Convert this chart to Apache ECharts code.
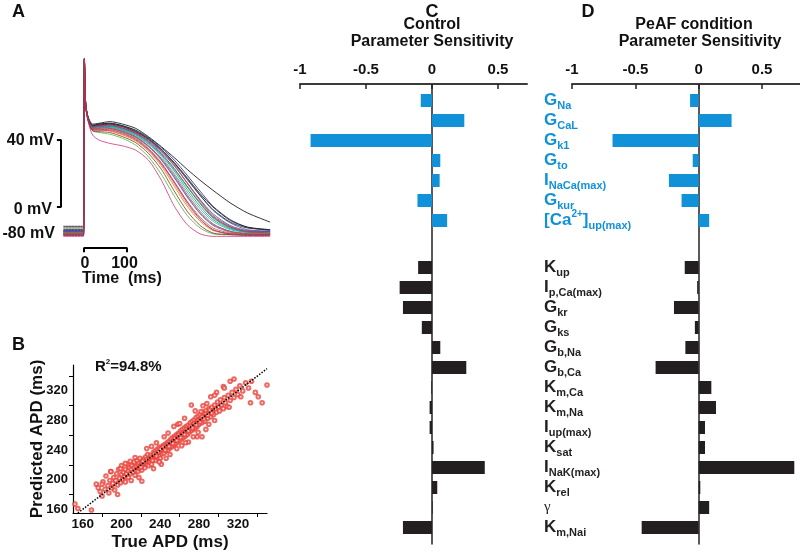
<!DOCTYPE html>
<html><head><meta charset="utf-8">
<script src="https://cdn.jsdelivr.net/npm/echarts@6/dist/echarts.min.js"></script>
<style>html,body{margin:0;padding:0;background:#fff}#c{width:800px;height:552px}</style>
</head><body><div id="c"></div>
<script>
const FONT = '"Liberation Sans", Arial, sans-serif';

// ---------- Panel C / D : parameter sensitivities ----------
const blueCats = ['G_Na','G_CaL','G_k1','G_to','I_NaCa(max)','G_kur','[Ca^2+]_up(max)'];
const blackCats = ['K_up','I_p,Ca(max)','G_kr','G_ks','G_b,Na','G_b,Ca','K_m,Ca','K_m,Na','I_up(max)','K_sat','I_NaK(max)','K_rel','γ','K_m,Nai'];
const controlBlue  = [-0.085, 0.245, -0.92, 0.063, 0.058, -0.11, 0.115];
const controlBlack = [-0.105, -0.245, -0.22, -0.077, 0.063, 0.26, -0.005, -0.018, -0.018, 0.012, 0.40, 0.04, 0.005, -0.22];
const peafBlue  = [-0.068, 0.26, -0.68, -0.047, -0.235, -0.135, 0.083];
const peafBlack = [-0.11, -0.012, -0.195, -0.03, -0.105, -0.34, 0.10, 0.137, 0.05, 0.05, 0.755, 0.013, 0.083, -0.45];
const sensTicks = [-1, -0.5, 0, 0.5];

// ---------- Panel A : action potentials (time ms, voltage mV) ----------
const apTime = [-48, -3, -1, 1, 4, 10, 20, 35, 60, 90, 120, 150, 180, 210, 240, 270, 300, 340, 380, 433];
const apTraces = [
  [-81,-81,-81, 23, -4.5, -13, -19, -20, -21, -23.5, -27.5, -34.5, -45, -58, -69.5, -77, -80.5, -81, -81, -81],
  [-76,-76,-76, 24, -3, -11, -15, -14.5, -13.5, -15, -17.5, -22.5, -28.5, -35, -42, -48.5, -54.5, -62, -68, -73.5],
  [-82,-82,-82, 22, -5, -14, -21.5, -24.5, -26.5, -28, -30.5, -36.5, -48.5, -64, -75, -80.5, -82, -82, -82, -82],
  [-80,-80,-80, 24, -4, -12, -17, -16.5, -16.5, -18.5, -21.5, -26.5, -33.5, -43, -54, -64, -72, -77.5, -79.5, -80],
  [-78.5,-78.5,-78.5, 24, -3, -11.5, -15.5, -15, -14.5, -16, -18.5, -23, -29, -36.5, -45.5, -55, -64, -72, -76.5, -78.5],
  [-81,-81,-81, 23, -4, -13, -18, -18, -19, -21.5, -25, -31, -40, -52, -64, -73, -78.5, -80.5, -81, -81],
  [-79,-79,-79, 24, -3, -12, -16.5, -16, -15.5, -17.5, -20.5, -25, -31.5, -40, -50, -60, -68.5, -75.5, -78.5, -79],
  [-80,-80,-80, 23.5, -4, -12.5, -18, -17.5, -17, -19, -22.5, -28, -36, -46.5, -58, -68, -75, -79, -80, -80],
  [-80.5,-80.5,-80.5, 23, -4, -12.5, -17.5, -17, -17.5, -19.5, -23, -28.5, -36.5, -47, -58.5, -68.5, -75.5, -79.5, -80.5, -80.5],
  [-78,-78,-78, 24, -3, -11.5, -16, -15, -14.5, -16, -19, -23.5, -30, -38, -47, -56.5, -64.5, -72.5, -76.5, -78],
  [-79.5,-79.5,-79.5, 24, -3.5, -12, -16.5, -16, -15.5, -17, -20, -24.5, -31, -39.5, -50.5, -61, -70, -76.5, -79, -79.5],
  [-79.5,-79.5,-79.5, 23.5, -4, -12, -17, -16.5, -16.5, -18.5, -22, -27, -34.5, -44.5, -55.5, -65.5, -73, -78, -79.5, -79.5],
  [-80,-80,-80, 23, -4.5, -13, -18.5, -18.5, -18, -20, -23.5, -29.5, -38, -49.5, -61, -70.5, -77, -80, -80.5, -80.5],
  [-80.5,-80.5,-80.5, 23, -4, -12.5, -18, -18.5, -19, -21, -24.5, -30.5, -39, -50.5, -62.5, -72, -78, -80.5, -80.5, -80.5],
  [-79,-79,-79, 23.5, -3.5, -12, -16.5, -16, -16, -17.5, -20.5, -25.5, -32.5, -41.5, -52, -62, -70.5, -76.5, -79, -79],
  [-81,-81,-81, 23, -4, -12.5, -17.5, -17.5, -17.5, -19.5, -22.5, -28, -35.5, -45.5, -57, -67, -74.5, -79, -80.5, -81],
  [-79,-79,-79, 24, -3.5, -12, -17, -16, -15, -16.5, -19.5, -24, -30, -38, -47.5, -57.5, -66.5, -74, -78, -79],
  [-80,-80,-80, 24, -3.5, -12, -17, -16.5, -16, -18, -21, -26, -33, -42, -52.5, -62.5, -71, -77, -79.5, -80],
  [-77,-77,-77, 24, -3.5, -11.5, -16, -15.5, -15, -16.5, -19.5, -24, -30.5, -38.5, -48, -57.5, -66, -73.5, -77, -78],
  [-81.5,-81.5,-81.5, 23, -4.5, -13, -19, -19.5, -20, -22.5, -26, -32.5, -42, -55, -67, -75.5, -80, -81, -81.5, -81.5],
  [-81,-81,-81, 23, -4, -13, -18.5, -18.5, -18.5, -20.5, -24, -30, -38.5, -49.5, -61.5, -71.5, -78, -80.5, -81, -81],
  [-80,-80,-80, 24.5, -3.5, -12, -16.5, -16, -15.5, -17, -20, -24.5, -31, -39.5, -50, -60.5, -69.5, -76, -79, -80]
];
const apColors = ['#4caf50','#000000','#d0307a','#2a9d3a','#1b2a6b','#e07b20','#2b4fd6','#0097a7','#b02fb0','#111111','#8bc34a',
                  '#18b7c8','#8a8a20','#ff5722','#6a2a9a','#d23a3a','#3f51b5','#1f8f8f','#222222','#7b3f00','#9c27b0','#d32f2f'];
const voltScale = [[-63, -24.5], [-53.5, -24.5], [-53.5, -64.5], [-63, -64.5]];
const timeScale = [[0, -91.5], [0, -89], [100, -89], [100, -91.5]];

// ---------- Panel B : predicted vs true APD ----------
const apdPoints = [
[152,167],[155,161],[169,159],[174,194],[176,189],[178,184],[180,178],[181,197],[183,187],[184,205],[186,192],[187,182],[188,199],[189,211],[190,189],[191,195],[192,203],[193,186],[194,199],[195,208],[196,193],[197,214],[198,202],[199,196],[200,207],[200,219],[201,200],[202,210],[203,204],[204,214],[204,197],[205,208],[206,221],[207,212],[207,203],[208,216],[209,208],[210,199],[210,214],[211,219],[212,210],[213,224],[213,216],[214,206],[215,218],[215,212],[216,226],[217,219],[217,211],[218,222],[219,215],[219,229],[220,220],[221,224],[221,213],[222,218],[223,228],[223,222],[224,216],[225,226],[225,231],[226,221],[227,225],[227,234],[228,219],[229,229],[229,224],[230,233],[231,227],[231,221],[232,231],[233,237],[233,228],[234,233],[235,226],[235,239],[236,234],[237,230],[237,241],[238,236],[239,232],[239,244],[240,238],[240,229],[241,243],[242,239],[242,235],[243,246],[244,241],[244,236],[245,248],[246,243],[246,239],[247,250],[248,245],[248,240],[249,252],[250,247],[250,243],[251,255],[252,249],[252,245],[253,257],[254,252],[254,247],[255,259],[256,254],[256,249],[257,261],[258,256],[258,251],[259,263],[260,258],[260,253],[261,266],[262,260],[262,255],[263,268],[264,262],[264,257],[265,270],[266,264],[266,259],[267,272],[268,267],[268,261],[269,274],[270,269],[270,264],[271,277],[272,271],[272,266],[273,279],[274,273],[274,268],[275,281],[276,276],[276,270],[277,284],[278,278],[278,272],[279,286],[280,281],[280,275],[281,288],[282,283],[283,277],[284,291],[285,285],[286,279],[287,293],[288,288],[289,283],[290,296],[291,290],[292,285],[293,298],[294,292],[295,288],[296,301],[297,295],[298,291],[299,305],[300,298],[301,293],[302,308],[303,301],[305,296],[306,311],[307,304],[309,299],[310,314],[312,307],[314,318],[316,311],[318,322],[320,315],[322,327],[325,320],[328,331],[331,324],[334,333],[338,318],[341,312],[333,304],[345,304],[350,328],[272,301],[282,292],[278,258],[283,258],[241,221],[221,198],[180,194],[189,211],[246,229],[258,275],[233,215],[265,283],[292,312],[298,318],[305,326],[312,333],[269,251],[287,268],[250,234],[226,242],[214,230],[204,222],[196,180],[254,272],[276,293],[296,280],[306,324],[311,298],[236,250],[244,258],[262,246],[274,258],[284,300],[290,275],[231,245],[218,203],[209,225],[199,215],[260,276],[266,250],[248,263],[239,224],[257,242],[279,264],[316,336],[323,312],[296,314],[288,303],
[243,244],[245,240],[247,247],[249,245],[251,251],[253,249],[255,256],[257,253],[259,260],[261,257],[263,263],[265,261],[267,268],[269,266],[271,272],[273,270],[275,276],[277,274],[279,280],[281,278],[230,229],[232,226],[234,235],[236,232],[238,238],[240,241],[226,227],[224,224],[222,225],[220,217],[283,285],[285,282],[287,289],[289,287],[291,294],[293,290]
];
const identityLine = [[155,155],[350,350]];
const apdLabelTicks = [160, 200, 240, 280, 320];
const apdMinorTicks = [180, 220, 260, 300, 340];

const BLUE = '#1192d8', BLACK = '#231f20';

function fmtLabel(s) {
  if (s === 'γ') return '{g|γ}';
  if (s.indexOf('^') >= 0) {
    const parts = s.split('^');
    const rest = parts[1].split('_');
    return '{m|' + parts[0] + '}{p|' + rest[0].slice(0, -1) + '}{m|]}{s|' + rest[1] + '}';
  }
  const i = s.indexOf('_');
  return '{m|' + s.slice(0, i) + '}{s|' + s.slice(i + 1) + '}';
}
function richFor(color) {
  return {
    m: {fontSize: 17, fontWeight: 'bold', lineHeight: 22, color: color, fontFamily: FONT},
    s: {fontSize: 11, fontWeight: 'bold', lineHeight: 10, verticalAlign: 'bottom', color: color, fontFamily: FONT},
    p: {fontSize: 10, fontWeight: 'bold', lineHeight: 10, verticalAlign: 'top', color: color, fontFamily: FONT},
    g: {fontSize: 15, lineHeight: 22, color: color, fontFamily: '"Liberation Serif", serif'}
  };
}

const grids = [
  {left: 53.9, right: 529, top: 48.75, bottom: 285.5},   // 0 A
  {left: 73, right: 533, top: 365, bottom: 38},          // 1 B
  {left: 300, right: 273, top: 84, bottom: 8},           // 2 C axis
  {left: 300, right: 273, top: 90.5, height: 140},       // 3 C blue
  {left: 300, right: 273, top: 257.5, height: 280},      // 4 C black
  {left: 572, right: 0, top: 84, bottom: 8},             // 5 D axis
  {left: 572, right: 0, top: 90.5, height: 140},         // 6 D blue
  {left: 572, right: 0, top: 257.5, height: 280}         // 7 D black
];

function axisX(g, max) {
  return {gridIndex: g, type: 'value', min: -1, max: max, position: 'top',
    axisLine: {onZero: false, lineStyle: {color: '#3c3c3c', width: 2}},
    axisTick: {inside: true, length: 5, customValues: sensTicks, lineStyle: {color: '#222', width: 1.5}},
    axisLabel: {customValues: sensTicks, fontWeight: 'bold', fontSize: 15, color: '#111', margin: 7, fontFamily: FONT},
    splitLine: {show: false}};
}
function axisY(g) {
  return {gridIndex: g, type: 'value', min: 0, max: 1,
    axisLine: {show: true, onZero: true, lineStyle: {color: '#222', width: 1.5}},
    axisTick: {show: false}, axisLabel: {show: false}, splitLine: {show: false}};
}
function hiddenX(g, max) {
  return {gridIndex: g, type: 'value', min: -1, max: max, show: false};
}
function catY(g, cats, showLabels, color) {
  return {gridIndex: g, type: 'category', data: cats, inverse: true, position: 'right',
    axisLine: {show: false, onZero: false}, axisTick: {show: false}, splitLine: {show: false},
    axisLabel: {show: showLabels, interval: 0, margin: 17, formatter: fmtLabel, rich: richFor(color)}};
}

const xAxes = [
  {gridIndex: 0, type: 'value', min: -70, max: 435, show: false},
  {gridIndex: 1, type: 'value', min: 150, max: 350,
    axisLine: {onZero: false, lineStyle: {color: '#000', width: 1.2}},
    axisTick: {customValues: apdMinorTicks, length: 4, lineStyle: {color: '#000'}},
    axisLabel: {customValues: apdLabelTicks, fontWeight: 'bold', fontSize: 13.5, color: '#111', margin: 4, fontFamily: FONT},
    splitLine: {show: false},
    name: 'True APD (ms)', nameLocation: 'middle', nameGap: 21, nameMoveOverlap: false,
    nameTextStyle: {fontWeight: 'bold', fontSize: 17, color: '#111', fontFamily: FONT}},
  axisX(2, 0.72), hiddenX(3, 0.72), hiddenX(4, 0.72),
  axisX(5, 0.8), hiddenX(6, 0.8), hiddenX(7, 0.8)
];
const yAxes = [
  {gridIndex: 0, type: 'value', min: -100, max: 30, show: false},
  {gridIndex: 1, type: 'value', min: 155, max: 355,
    axisLine: {onZero: false, lineStyle: {color: '#000', width: 1.2}},
    axisTick: {customValues: apdMinorTicks, length: 4, lineStyle: {color: '#000'}},
    axisLabel: {customValues: apdLabelTicks, fontWeight: 'bold', fontSize: 13, color: '#111', margin: 5, fontFamily: FONT},
    splitLine: {show: false},
    name: 'Predicted APD (ms)', nameLocation: 'middle', nameGap: 27, nameRotate: 90, nameMoveOverlap: false,
    nameTextStyle: {fontWeight: 'bold', fontSize: 17, color: '#111', fontFamily: FONT}},
  axisY(2), catY(3, blueCats, true, BLUE), catY(4, blackCats, true, BLACK),
  axisY(5), catY(6, blueCats, false, BLUE), catY(7, blackCats, false, BLACK)
];

const series = [];
apTraces.forEach(function (tr, k) {
  series.push({type: 'line', xAxisIndex: 0, yAxisIndex: 0, showSymbol: false, symbol: 'none',
    smooth: 0.25, data: apTime.map(function (t, i) { return [t, tr[i]]; }),
    lineStyle: {color: apColors[k % apColors.length], width: 0.8}, silent: true, z: 2});
});
series.push({type: 'line', xAxisIndex: 0, yAxisIndex: 0, symbol: 'none', data: voltScale,
  lineStyle: {color: '#000', width: 2}, clip: false});
series.push({type: 'line', xAxisIndex: 0, yAxisIndex: 0, symbol: 'none', data: timeScale,
  lineStyle: {color: '#000', width: 2}, clip: false});
series.push({type: 'scatter', xAxisIndex: 1, yAxisIndex: 1, data: apdPoints, symbol: 'emptyCircle', symbolSize: 3.6,
  itemStyle: {color: '#e8433c', borderColor: '#e8433c', borderWidth: 0.7}});
series.push({type: 'line', xAxisIndex: 1, yAxisIndex: 1, data: identityLine, symbol: 'none',
  lineStyle: {color: '#000', width: 1.5, type: 'dotted'}, z: 5});
function bars(xi, yi, vals, color) {
  series.push({type: 'bar', xAxisIndex: xi, yAxisIndex: yi, data: vals, barWidth: 13,
    itemStyle: {color: color}, z: 3});
}
bars(3, 3, controlBlue, BLUE);
bars(4, 4, controlBlack, BLACK);
bars(6, 6, peafBlue, BLUE);
bars(7, 7, peafBlack, BLACK);

function txt(text, x, y, size, align, extra) {
  const st = Object.assign({text: text, x: x, y: y, font: 'bold ' + size + 'px ' + FONT, fill: '#111',
    align: align, verticalAlign: 'middle', textAlign: align, textVerticalAlign: 'middle'}, extra || {});
  return {type: 'text', z: 10, style: st};
}

const graphic = [
  txt('A', 12, 12, 18, 'left'),
  txt('B', 12, 345, 18, 'left'),
  txt('C', 432, 12, 18, 'center'),
  txt('D', 588, 12, 18, 'center'),
  txt('Control', 432, 25, 16, 'center'),
  txt('Parameter Sensitivity', 432, 42, 16, 'center'),
  txt('PeAF condition', 694, 25, 16, 'center'),
  txt('Parameter Sensitivity', 700, 42, 16, 'center'),
  txt('40 mV', 54, 141, 16, 'right'),
  txt('0 mV', 52, 210, 16, 'right'),
  txt('-80 mV', 55, 234, 16, 'right'),
  txt('0', 85, 264, 16, 'center'),
  txt('100', 124.5, 264, 16, 'center'),
  txt('Time  (ms)', 82, 279, 16, 'left'),
  {type: 'text', z: 10, style: {text: '{r|R}{s|2}{r|=94.8%}', x: 95, y: 367, align: 'left', verticalAlign: 'middle',
    textAlign: 'left', textVerticalAlign: 'middle',
    rich: {r: {font: 'bold 15px ' + FONT, fill: '#111', lineHeight: 18},
           s: {font: 'bold 8px ' + FONT, fill: '#111', lineHeight: 9, verticalAlign: 'top'}}}}
];

const chart = echarts.init(document.getElementById('c'), null, {renderer: 'canvas', devicePixelRatio: 1});
chart.setOption({animation: false, backgroundColor: '#fff', grid: grids, xAxis: xAxes, yAxis: yAxes, series: series, graphic: graphic});
</script></body></html>
